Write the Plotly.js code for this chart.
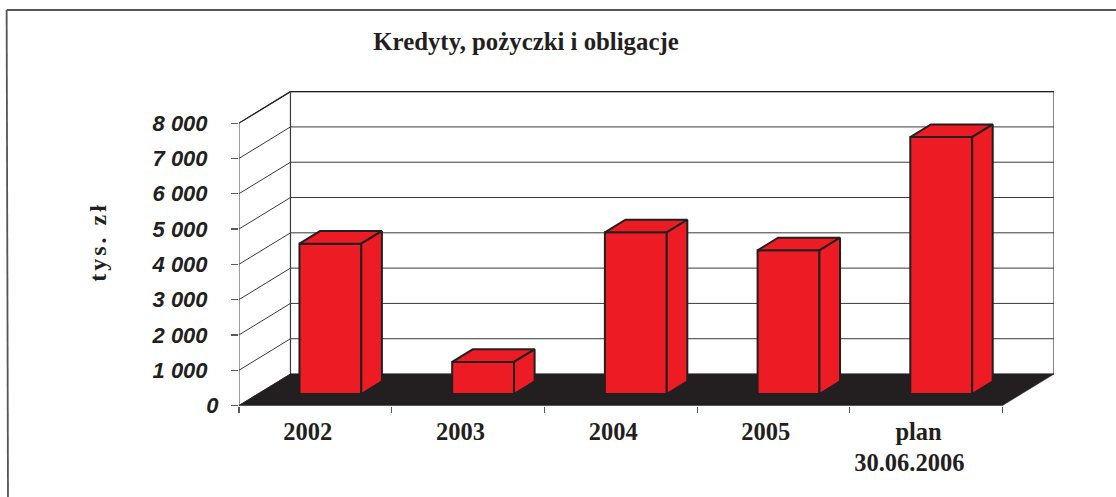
<!DOCTYPE html>
<html>
<head>
<meta charset="utf-8">
<script src="https://cdn.plot.ly/plotly-3.0.1.min.js"></script>
<style>
html,body{margin:0;padding:0;background:#fff}
#chart{width:1116px;height:497px}
.ytitle{letter-spacing:3px}
</style>
</head>
<body>
<div id="chart"></div>
<script>
// Data
const categories = ['2002', '2003', '2004', '2005', 'plan<br>30.06.2006\u00A0\u00A0\u00A0'];
const values = [4260, 910, 4580, 4070, 7280];
const gridValues = [0, 1000, 2000, 3000, 4000, 5000, 6000, 7000, 8000];
const gridLabels = ['8 000', '7 000', '6 000', '5 000', '4 000', '3 000', '2 000', '1 000'];
const chartTitle = 'Kredyty, pożyczki i obligacje';
const valueTitle = 'tys. zł';

// Oblique projection: depth 0 = front of the floor, depth 1 = back wall
const depthX = 0.337;     // in category units
const depthY = 892;       // in value units
const yMax = 9278, xMax = 5 + depthX;
const barStart = 0.273, barWidth = 0.405;
const barDepthStart = 0.365, barDepth = 0.40;
const ink = '#231F20', red = '#ED1C24', wall = '#3a3a3a', axisGrey = '#5a5a5a';

const px = (x, d) => x + d * depthX;
const py = (y, d) => y + d * depthY;

function line(points, color, width, axes) {
  return Object.assign({
    type: 'scatter', mode: 'lines', hoverinfo: 'skip', showlegend: false,
    x: points.map(p => px(p[0], p[2])), y: points.map(p => py(p[1], p[2])),
    line: {color: color, width: width}
  }, axes || {});
}
function face(points, fill, axes) {
  return Object.assign(line(points.concat([points[0]]), ink, 2, axes), {fill: 'toself', fillcolor: fill});
}

const traces = [];
const top2 = {xaxis: 'x2', yaxis: 'y2'};

// Walls and floor
gridValues.forEach(v => {
  traces.push(line([[0, v, 0], [0, v, 1], [5, v, 1]], wall, 1));
});
traces.push(line([[0, 8000, 1], [5, 8000, 1]], ink, 1.2));
traces.push(line([[0, 8000, 0], [0, 8000, 1]], ink, 1.2));
traces.push(line([[0, 0, 1], [0, 8000, 1]], wall, 1.2));
traces.push(line([[5, 0, 1], [5, 8000, 1]], wall, 1.2));
traces.push(line([[0, 0, 0], [0, 8000, 0]], axisGrey, 1.2));
traces.push(Object.assign(line([[0,0,0],[5,0,0],[5,0,1],[0,0,1],[0,0,0]], ink, 0.5), {fill:'toself', fillcolor: ink}));

// Front faces as real bars on the overlay axes; base lifted by the floor gap
const base = barDepthStart * depthY;
const shift = barDepthStart * depthX;
traces.push({
  type: 'bar', xaxis: 'x2', yaxis: 'y2', hoverinfo: 'skip', showlegend: false,
  x: values.map((_, i) => i + barStart + shift + barWidth / 2),
  y: values, base: values.map(() => base), width: barWidth,
  marker: {color: red, line: {color: ink, width: 2}}
});

// Tops and right sides of the bars
values.forEach((v, i) => {
  const x0 = i + barStart, x1 = x0 + barWidth;
  const d0 = barDepthStart, d1 = barDepthStart + barDepth;
  traces.push(face([[x0, v, d0], [x1, v, d0], [x1, v, d1], [x0, v, d1]], red, top2));
  traces.push(face([[x1, 0, d0], [x1, v, d0], [x1, v, d1], [x1, 0, d1]], red, top2));
});

const layout = {
  width: 1116, height: 497,
  margin: {l: 238.5, r: 62, t: 78, b: 91, pad: 0},
  paper_bgcolor: '#fff', plot_bgcolor: 'rgba(0,0,0,0)',
  showlegend: false, bargap: 0, barmode: 'overlay',
  title: {text: '<b>' + chartTitle + '</b>', x: 526 / 1116, xanchor: 'center', y: 1 - 41 / 497, yanchor: 'middle',
    font: {family: 'Liberation Serif', size: 24.8, color: ink}},
  xaxis: {range: [0, xMax], tickmode: 'array', tickvals: [0, 1, 2, 3, 4, 5], ticktext: ['', '', '', '', '', ''],
    ticks: 'outside', ticklen: 6, tickwidth: 1.2, tickcolor: axisGrey, showgrid: false, zeroline: false, showline: false, fixedrange: true},
  xaxis2: {overlaying: 'x', anchor: 'y2', side: 'bottom', range: [0, xMax], tickmode: 'array',
    tickvals: categories.map((_, i) => i + 0.45), ticktext: categories, ticks: '', ticklabelstandoff: 8,
    tickfont: {family: 'Liberation Serif', size: 24.5, color: ink, weight: 'bold'},
    showgrid: false, zeroline: false, showline: false, fixedrange: true},
  yaxis: {range: [-14, yMax], tickmode: 'array', tickvals: gridValues.slice(1).reverse(), ticktext: gridLabels,
    ticks: 'outside', ticklen: 7, tickwidth: 1.2, tickcolor: axisGrey, ticklabelstandoff: 19,
    tickfont: {family: 'Liberation Sans', size: 22, color: ink, weight: 'bold', style: 'italic'},
    showgrid: false, zeroline: false, showline: false, fixedrange: true,
    title: {text: '<b>' + valueTitle + '</b>', standoff: 38, font: {family: 'Liberation Serif', size: 24, color: ink}}},
  yaxis2: {overlaying: 'y', anchor: 'x2', side: 'left', range: [-14, yMax], tickmode: 'array', tickvals: [0], ticktext: ['0'],
    ticks: 'outside', ticklen: 7, tickwidth: 1.2, tickcolor: axisGrey, ticklabelstandoff: 8,
    tickfont: {family: 'Liberation Sans', size: 22, color: ink, weight: 'bold', style: 'italic'},
    showgrid: false, zeroline: false, showline: false, fixedrange: true},
  shapes: [
    {type: 'line', xref: 'paper', yref: 'paper', layer: 'below',
     x0: (6 - 238.5) / (1116 - 238.5 - 62), x1: (8 - 238.5) / (1116 - 238.5 - 62), y0: (497 - 10 - 91) / 328, y1: -1,
     line: {color: '#555', width: 1.8}},
    {type: 'line', xref: 'paper', yref: 'paper', layer: 'below',
     x0: (6 - 238.5) / (1116 - 238.5 - 62), x1: (1116 - 238.5) / (1116 - 238.5 - 62), y0: (497 - 10 - 91) / 328, y1: (497 - 10 - 91) / 328,
     line: {color: '#555', width: 1.8}}
  ]
};
Plotly.newPlot('chart', traces, layout, {staticPlot: true, displayModeBar: false});
</script>
</body>
</html>
